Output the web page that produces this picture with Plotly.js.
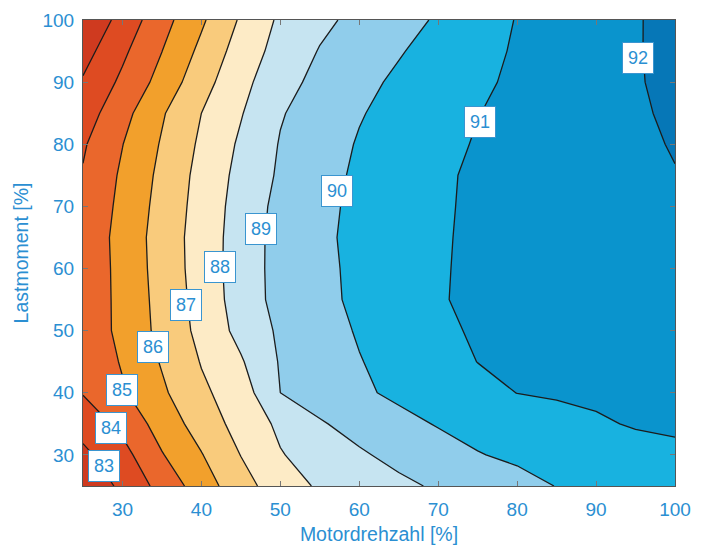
<!DOCTYPE html>
<html>
<head>
<meta charset="utf-8">
<script src="https://cdn.plot.ly/plotly-3.0.1.min.js"></script>
<style>html,body{margin:0;padding:0;background:#fff;}</style>
</head>
<body>
<div id="chart" style="width:707px;height:549px;"></div>
<script>
// Motordrehzahl [%] (x) and Lastmoment [%] (y) grid nodes
const speed = [25, 30, 35, 40, 45, 50, 55, 60, 65, 70, 75, 80, 85, 90, 95, 100];
const load = [25, 30, 35, 40, 45, 50, 55, 60, 65, 70, 75, 80, 85, 90, 95, 100];

// efficiency [%], one row per load value (bottom to top)
const eff25  = [82.17, 83.23, 84.33, 85.50, 86.62, 87.52, 88.13, 88.47, 88.80, 89.12, 89.42, 89.72, 90.02, 90.20, 90.40, 90.60];
const eff30  = [82.77, 83.66, 84.94, 85.95, 87.02, 87.94, 88.43, 88.88, 89.26, 89.61, 89.96, 90.15, 90.31, 90.47, 90.63, 90.80];
const eff35  = [83.40, 84.26, 85.43, 86.43, 87.37, 88.19, 88.91, 89.34, 89.73, 90.06, 90.27, 90.47, 90.67, 90.88, 91.08, 91.15];
const eff40  = [84.05, 84.88, 85.84, 86.82, 87.50, 89.00, 89.43, 89.85, 90.18, 90.46, 90.74, 91.01, 91.10, 91.18, 91.26, 91.34];
const eff45  = [84.12, 85.10, 86.08, 87.05, 87.90, 89.08, 89.52, 89.96, 90.32, 90.67, 91.01, 91.20, 91.35, 91.50, 91.63, 91.75];
const eff50  = [84.28, 85.28, 86.27, 87.27, 88.30, 89.16, 89.63, 90.08, 90.43, 90.78, 91.13, 91.28, 91.42, 91.56, 91.70, 91.82];
const eff55  = [84.26, 85.30, 86.33, 87.37, 88.45, 89.33, 89.78, 90.17, 90.53, 90.90, 91.26, 91.37, 91.49, 91.61, 91.73, 91.85];
const eff60  = [84.24, 85.33, 86.39, 87.43, 88.48, 89.34, 89.80, 90.19, 90.54, 90.89, 91.23, 91.35, 91.47, 91.60, 91.72, 91.85];
const eff65  = [84.27, 85.36, 86.42, 87.44, 88.45, 89.35, 89.83, 90.22, 90.55, 90.88, 91.20, 91.33, 91.46, 91.59, 91.72, 91.85];
const eff70  = [84.17, 85.26, 86.34, 87.38, 88.40, 89.28, 89.79, 90.19, 90.52, 90.85, 91.19, 91.32, 91.46, 91.60, 91.74, 91.88];
const eff75  = [84.07, 85.15, 86.24, 87.31, 88.29, 89.14, 89.69, 90.15, 90.49, 90.83, 91.17, 91.33, 91.49, 91.65, 91.81, 91.97];
const eff80  = [83.89, 84.98, 86.09, 87.17, 88.15, 89.06, 89.59, 90.07, 90.41, 90.74, 91.07, 91.24, 91.45, 91.65, 91.85, 92.05];
const eff85  = [83.51, 84.67, 85.90, 87.00, 87.94, 88.93, 89.45, 89.94, 90.30, 90.64, 90.98, 91.21, 91.43, 91.66, 91.88, 92.15];
const eff90  = [83.10, 84.20, 85.35, 86.62, 87.71, 88.64, 89.28, 89.75, 90.16, 90.50, 90.85, 91.15, 91.40, 91.66, 91.92, 92.25];
const eff95  = [82.62, 83.81, 84.99, 86.23, 87.44, 88.36, 89.05, 89.49, 89.93, 90.34, 90.74, 91.09, 91.37, 91.65, 91.93, 92.30];
const eff100 = [82.05, 83.37, 84.63, 85.85, 87.12, 88.17, 88.78, 89.26, 89.68, 90.10, 90.58, 91.04, 91.34, 91.64, 91.94, 92.25];

// contour levels and their label anchor points
const levels = [83, 84, 85, 86, 87, 88, 89, 90, 91, 92];
const labelSpeed = [27.6, 28.5, 30.0, 33.9, 38.0, 42.4, 47.6, 57.2, 75.3, 95.3];
const labelLoad  = [28.2, 34.4, 40.5, 47.4, 54.2, 60.2, 66.3, 72.5, 83.6, 93.9];

// band colours from lowest (<83) to highest (>92)
const bandColors = ['#cf3a1f', '#de4b22', '#ea672c', '#f2a02c', '#f9cb7c', '#fdebc6',
                    '#c6e4f1', '#90cdeb', '#18b2e0', '#0a94cd', '#0677b7'];

const z = [eff25, eff30, eff35, eff40, eff45, eff50, eff55, eff60, eff65, eff70,
           eff75, eff80, eff85, eff90, eff95, eff100];

// stepwise colorscale: band k is evaluated at k/10
const colorscale = [];
bandColors.forEach((c, k) => {
  const lo = Math.max(0, (k - 0.5) / 10);
  const hi = Math.min(1, (k + 0.5) / 10);
  colorscale.push([lo, c]);
  colorscale.push([hi, c]);
});

const blue = '#2b8fd2';
const fontFam = '"Liberation Sans", Arial, sans-serif';

const trace = {
  type: 'contour',
  x: speed,
  y: load,
  z: z,
  autocontour: false,
  contours: {start: levels[0], end: levels[levels.length - 1], size: 1, coloring: 'fill', showlabels: false},
  colorscale: colorscale,
  showscale: false,
  line: {color: '#1c1c1c', width: 1.3, smoothing: 0},
  hoverinfo: 'x+y+z'
};

const annotations = levels.map((lv, i) => ({
  x: labelSpeed[i], y: labelLoad[i], xref: 'x', yref: 'y',
  text: String(lv), showarrow: false,
  bgcolor: '#ffffff', bordercolor: '#3a95d0', borderwidth: 1, borderpad: 5,
  font: {family: fontFam, size: 18, color: blue}
}));

const axisCommon = {
  range: [25, 100],
  tickvals: [30, 40, 50, 60, 70, 80, 90, 100],
  ticks: 'inside', ticklen: 5, tickwidth: 1, tickcolor: '#777',
  showline: true, linecolor: '#555', linewidth: 1, mirror: 'ticks',
  showgrid: false, zeroline: false,
  tickfont: {family: fontFam, size: 19, color: blue}
};

const layout = {
  width: 707, height: 549,
  margin: {l: 83, r: 32, t: 20, b: 63},
  paper_bgcolor: '#ffffff', plot_bgcolor: '#ffffff',
  showlegend: false,
  xaxis: Object.assign({}, axisCommon, {
    ticklabelstandoff: 6,
    title: {text: 'Motordrehzahl [%]', font: {family: fontFam, size: 19.5, color: blue}, standoff: 8}
  }),
  yaxis: Object.assign({}, axisCommon, {
    ticklabelstandoff: 4,
    title: {text: 'Lastmoment [%]', font: {family: fontFam, size: 19.5, color: blue}, standoff: 8}
  }),
  annotations: annotations
};

Plotly.newPlot('chart', [trace], layout, {displayModeBar: false, staticPlot: true});
</script>
</body>
</html>
